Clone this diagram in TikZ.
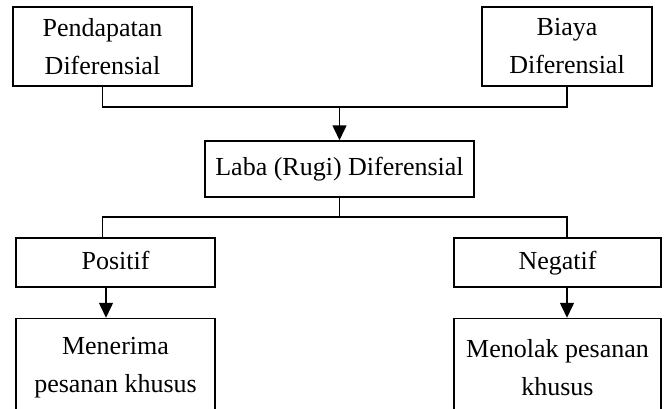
\documentclass[tikz,border=0pt]{standalone}
\usepackage{fontspec}
\setmainfont{Liberation Serif}
\usetikzlibrary{positioning}
\usetikzlibrary{arrows.meta}
\tikzstyle{box}=[draw, rectangle, line width=1.5pt, inner sep=0pt, align=center, font=\fontsize{26}{38}\selectfont]
\tikzstyle{oneline}=[text height=18pt, text depth=5pt]
\tikzstyle{link}=[line width=1.5pt]
\tikzstyle{arr}=[link, -{Triangle[length=15pt,width=14pt]}]

\begin{document}
\begin{tikzpicture}[x=1pt,y=1pt]
    \useasboundingbox (0,0) rectangle (665,-408);

\node (pend) [box, minimum width=179pt, minimum height=79pt] at (102.5,-46.5) {Pendapatan\\Diferensial};
\node (biaya) [box, minimum width=170pt, minimum height=79pt] at (567,-46.5) {Biaya\\Diferensial};
\node (laba) [box, oneline, minimum width=269pt, minimum height=56pt] at (339.5,-169) {Laba (Rugi) Diferensial};
\node (pos) [box, oneline, minimum width=199pt, minimum height=49pt] at (115.5,-262.5) {Positif};
\node (neg) [box, oneline, minimum width=207pt, minimum height=49pt] at (557.5,-262.5) {Negatif};
\node (terima) [below=30pt of pos, box, minimum width=199pt, minimum height=98pt] {Menerima\\pesanan khusus};
\node (tolak) [below=30pt of neg, box, minimum width=207pt, minimum height=98pt] {Menolak pesanan\\khusus};
\coordinate (jtop) at (339.5,-107);
\coordinate (jmid) at (339.5,-217);
\draw[link] (pend.south) |- (jtop) -| (biaya.south);
\draw[arr] (jtop) -- (laba.north);
\draw[link] (laba.south) -- (jmid);
\draw[link] (pos.north -| pend.south) |- (jmid) -| (neg.north -| biaya.south);
\draw[arr] ([xshift=-9.5pt]pos.south) -- ([xshift=-9.5pt]terima.north);
\draw[arr] (neg.south -| biaya.south) -- (tolak.north -| biaya.south);
\end{tikzpicture}
\end{document}
